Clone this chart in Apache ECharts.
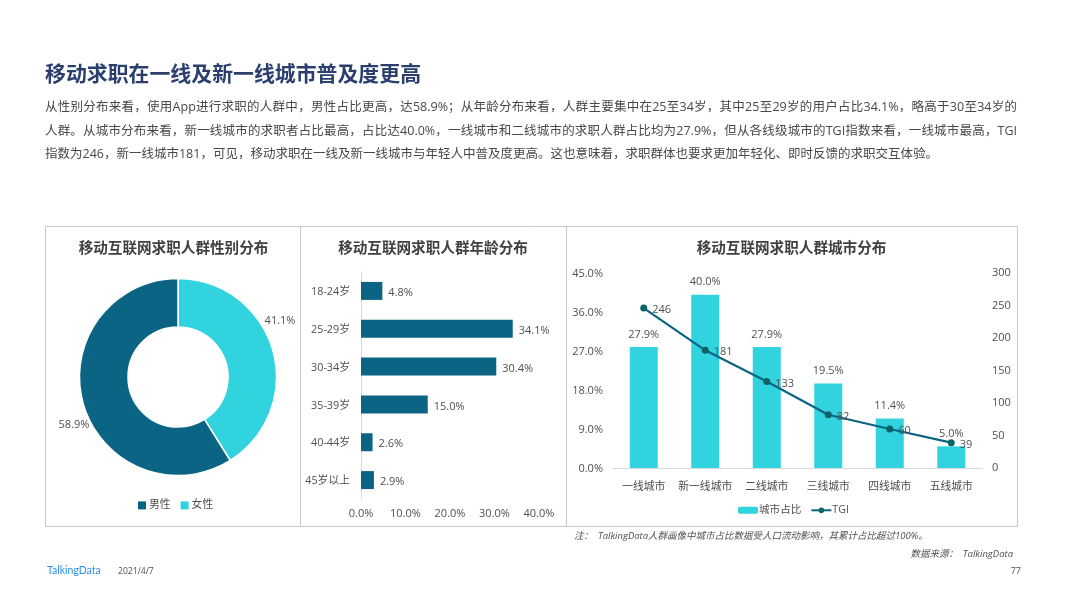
<!DOCTYPE html>
<html>
  <head>
    <meta charset="utf-8" />
    <script src="https://cdn.jsdelivr.net/npm/echarts@6/dist/echarts.min.js"></script>
    <style>
      html, body { margin: 0; background: #fff; }
      #main { width: 1066px; height: 599px; }
      #body-text { position: absolute; left: 45px; top: 95px; width: 972px; color: #484848; font: 12.5px/23.6px "Open Sans", "Noto Sans CJK SC", sans-serif; }
      #body-text div { white-space: nowrap; text-align: justify; text-align-last: justify; }
      #body-text div:last-child { text-align-last: left; }
    </style>
  </head>

  <body>
    <div id="main"></div>
    <div id="body-text"></div>
    <script type="text/javascript">
      const genderNames = ['女性', '男性'];
      const genderValues = [41.1, 58.9];
      const ageGroups = ['18-24岁', '25-29岁', '30-34岁', '35-39岁', '40-44岁', '45岁以上'];
      const ageValues = [4.8, 34.1, 30.4, 15.0, 2.6, 2.9];
      const ageTicks = [0, 10, 20, 30, 40];
      const cities = ['一线城市', '新一线城市', '二线城市', '三线城市', '四线城市', '五线城市'];
      const cityShare = [27.9, 40.0, 27.9, 19.5, 11.4, 5.0];
      const cityTgi = [246, 181, 133, 82, 60, 39];

      const heading = '移动求职在一线及新一线城市普及度更高';
      const bodyLines = [
        '从性别分布来看，使用App进行求职的人群中，男性占比更高，达58.9%；从年龄分布来看，人群主要集中在25至34岁，其中25至29岁的用户占比34.1%，略高于30至34岁的',
        '人群。从城市分布来看，新一线城市的求职者占比最高，占比达40.0%，一线城市和二线城市的求职人群占比均为27.9%，但从各线级城市的TGI指数来看，一线城市最高，TGI',
        '指数为246，新一线城市181，可见，移动求职在一线及新一线城市与年轻人中普及度更高。这也意味着，求职群体也要求更加年轻化、即时反馈的求职交互体验。'
      ];
      const note = '注：  TalkingData人群画像中城市占比数据受人口流动影响，其累计占比超过100%。';
      const source = '数据来源：  TalkingData';

      const font = '"Open Sans", "Noto Sans CJK SC", sans-serif';
      const dark = '#0b6484';
      const cyan = '#31d3de';
      const textColor = '#505050';

      bodyLines.forEach(line => {
        const el = document.createElement('div');
        el.textContent = line;
        document.getElementById('body-text').appendChild(el);
      });

      const myChart = echarts.init(document.getElementById('main'), null, { renderer: 'canvas' });

      const text = (x, y, str, fontStr, color, extra) => ({
        type: 'text', x, y,
        style: Object.assign({ text: str, font: fontStr, fill: color, textVerticalAlign: 'middle' }, extra || {})
      });

      const panelLine = (x1, y1, x2, y2) => ({
        type: 'line', shape: { x1, y1, x2, y2 }, style: { stroke: '#c8c8c8', lineWidth: 1 }
      });

      const panelTitle = (str, left) => ({
        text: str, left, top: 237, textAlign: 'center',
        textStyle: { fontSize: 14.6, fontWeight: 'bold', color: '#404040', fontFamily: font }
      });

      // the two pie labels sit nearer the top of their slices than the default spot
      const pieLabelShift = { 0: { dx: -17, dy: -28 }, 1: { dx: 15, dy: 20 } };

      // rich style nudges the left axis labels down a pixel, plain padding has no effect there
      const nudged = size => ({ t: { fontSize: size, color: textColor, padding: [2, 0, 0, 0] } });

      const option = {
        animation: false,
        textStyle: { fontFamily: font },
        title: [
          panelTitle('移动互联网求职人群性别分布', 168.5),
          panelTitle('移动互联网求职人群年龄分布', 428),
          panelTitle('移动互联网求职人群城市分布', 786.5)
        ],
        legend: [
          {
            data: [{ name: '男性', icon: 'rect' }, { name: '女性', icon: 'rect' }],
            left: 133, top: 495, itemWidth: 8, itemHeight: 8, itemGap: 10,
            itemStyle: { borderWidth: 0 },
            textStyle: { fontSize: 10.8, color: textColor, padding: [0, 0, 0, -2] }
          },
          {
            data: ['城市占比', 'TGI'], left: 733, top: 500, itemWidth: 20, itemHeight: 7, itemGap: 9,
            textStyle: { fontSize: 10.6, color: textColor, padding: [0, 0, 0, -4] }
          }
        ],
        grid: [
          { left: 361, top: 272, width: 178, height: 227 },
          { left: 613, top: 273, width: 369, height: 195 }
        ],
        xAxis: [
          {
            gridIndex: 0, type: 'value', min: ageTicks[0], max: ageTicks[ageTicks.length - 1], interval: 10,
            axisLine: { show: false }, axisTick: { show: false }, splitLine: { show: false },
            axisLabel: { formatter: v => v.toFixed(1) + '%', fontSize: 11, color: textColor, margin: 9 }
          },
          {
            gridIndex: 1, type: 'category', data: cities,
            axisLine: { lineStyle: { color: '#d9d9d9' } }, axisTick: { show: false },
            axisLabel: { fontSize: 10.8, color: textColor, margin: 14, interval: 0 }
          }
        ],
        yAxis: [
          {
            gridIndex: 0, type: 'category', data: ageGroups, inverse: true,
            axisLine: { lineStyle: { color: '#d9d9d9' } }, axisTick: { show: false },
            axisLabel: { formatter: v => '{t|' + v + '}', rich: nudged(10.8), margin: 11 }
          },
          {
            gridIndex: 1, type: 'value', min: 0, max: 45, interval: 9,
            axisLine: { show: false }, axisTick: { show: false }, splitLine: { show: false },
            axisLabel: { formatter: v => '{t|' + v.toFixed(1) + '%}', rich: nudged(11), margin: 10 }
          },
          {
            gridIndex: 1, type: 'value', position: 'right', min: 0, max: 300, interval: 50,
            axisLine: { show: false }, axisTick: { show: false }, splitLine: { show: false },
            axisLabel: { fontSize: 11, color: textColor, margin: 10 }
          }
        ],
        series: [
          {
            type: 'pie', name: '性别', center: [178, 377], radius: [50, 98.5], startAngle: 90,
            itemStyle: { borderColor: '#fff', borderWidth: 1.5 },
            data: genderNames.map((name, i) => ({
              name, value: genderValues[i],
              itemStyle: { color: name === '男性' ? dark : cyan }
            })),
            label: { formatter: p => p.value.toFixed(1) + '%', fontSize: 11, color: textColor },
            labelLine: { show: false, length: 2, length2: 2 },
            labelLayout: p => pieLabelShift[p.dataIndex]
          },
          {
            type: 'bar', name: '年龄', xAxisIndex: 0, yAxisIndex: 0, data: ageValues, barWidth: 18,
            itemStyle: { color: dark },
            label: { show: true, position: 'right', formatter: p => p.value.toFixed(1) + '%', fontSize: 11, color: textColor, distance: 6, offset: [0, 2] }
          },
          {
            type: 'bar', name: '城市占比', xAxisIndex: 1, yAxisIndex: 1, data: cityShare, barWidth: 28,
            itemStyle: { color: cyan },
            label: { show: true, position: 'top', formatter: p => p.value.toFixed(1) + '%', fontSize: 11, color: textColor, distance: 7 }
          },
          {
            type: 'line', name: 'TGI', xAxisIndex: 1, yAxisIndex: 2, data: cityTgi,
            symbol: 'circle', symbolSize: 7,
            lineStyle: { color: dark, width: 2.2 }, itemStyle: { color: '#0a6466' },
            label: { show: true, position: 'right', fontSize: 11, color: textColor, distance: 5, offset: [0, 2] }
          }
        ],
        graphic: [
          panelLine(45.5, 226.5, 1017.5, 226.5),
          panelLine(45.5, 526.5, 1017.5, 526.5),
          panelLine(45.5, 226.5, 45.5, 526.5),
          panelLine(300.5, 226.5, 300.5, 526.5),
          panelLine(566.5, 226.5, 566.5, 526.5),
          panelLine(1017.5, 226.5, 1017.5, 526.5),
          text(45, 75, heading, 'bold 20.9px ' + font, '#2a3f6e'),
          text(574, 536, note, 'italic 9.5px ' + font, '#505050'),
          text(1013, 554, source, 'italic 9.5px ' + font, '#505050', { textAlign: 'right' }),
          text(47, 571, 'TalkingData', '10.5px Lato, sans-serif', '#2e8fe8'),
          text(118, 572, '2021/4/7', '8.6px ' + font, '#505050'),
          text(1021, 571, '77', '9px ' + font, '#505050', { textAlign: 'right' })
        ]
      };

      myChart.setOption(option);
    </script>
  </body>

</html>
